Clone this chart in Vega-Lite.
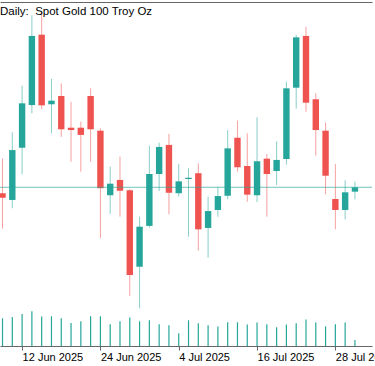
{
  "$schema": "https://vega.github.io/schema/vega-lite/v6.json",
  "width": 372,
  "height": 344,
  "autosize": "none",
  "padding": {"left": 0, "top": 2, "right": 3, "bottom": 20},
  "background": "white",
  "config": {
    "view": {"stroke": null},
    "font": "Liberation Sans",
    "axis": {"domainColor": "#666666", "tickColor": "#666666", "labelColor": "#000000", "labelFont": "Liberation Sans", "labelFontSize": 11, "grid": false, "title": null}
  },
  "title": {
    "text": "Daily:\u00a0 Spot Gold 100 Troy Oz",
    "anchor": "start",
    "frame": "group",
    "orient": "top",
    "offset": 0,
    "baseline": "alphabetic",
    "dy": 24,
    "fontSize": 11.5,
    "fontWeight": "normal",
    "color": "#000000",
    "font": "Liberation Sans"
  },
  "datasets": {
    "candles": [
      {"date": "2025-06-10", "o": 3322.7, "h": 3344.8, "l": 3300.0, "c": 3319.8, "v": 27.7},
      {"date": "2025-06-11", "o": 3318.4, "h": 3361.7, "l": 3313.1, "c": 3350.3, "v": 29.0},
      {"date": "2025-06-12", "o": 3351.8, "h": 3391.5, "l": 3334.8, "c": 3380.2, "v": 32.0},
      {"date": "2025-06-13", "o": 3379.1, "h": 3436.5, "l": 3373.8, "c": 3423.3, "v": 34.7},
      {"date": "2025-06-16", "o": 3424.1, "h": 3438.6, "l": 3376.4, "c": 3378.9, "v": 29.4},
      {"date": "2025-06-17", "o": 3379.6, "h": 3395.8, "l": 3361.0, "c": 3381.9, "v": 29.7},
      {"date": "2025-06-18", "o": 3384.9, "h": 3393.0, "l": 3358.7, "c": 3363.6, "v": 27.7},
      {"date": "2025-06-19", "o": 3364.6, "h": 3381.2, "l": 3342.9, "c": 3363.1, "v": 23.0},
      {"date": "2025-06-20", "o": 3364.6, "h": 3368.5, "l": 3336.5, "c": 3360.0, "v": 24.7},
      {"date": "2025-06-23", "o": 3384.9, "h": 3389.8, "l": 3342.9, "c": 3363.6, "v": 29.7},
      {"date": "2025-06-24", "o": 3362.7, "h": 3364.2, "l": 3293.9, "c": 3325.9, "v": 29.7},
      {"date": "2025-06-25", "o": 3321.4, "h": 3339.7, "l": 3309.6, "c": 3328.8, "v": 21.7},
      {"date": "2025-06-26", "o": 3331.2, "h": 3346.1, "l": 3307.7, "c": 3324.3, "v": 24.7},
      {"date": "2025-06-27", "o": 3324.6, "h": 3325.3, "l": 3257.0, "c": 3270.4, "v": 28.4},
      {"date": "2025-06-30", "o": 3275.7, "h": 3307.7, "l": 3249.1, "c": 3301.3, "v": 24.7},
      {"date": "2025-07-01", "o": 3301.8, "h": 3353.1, "l": 3300.7, "c": 3335.0, "v": 25.7},
      {"date": "2025-07-02", "o": 3335.0, "h": 3355.0, "l": 3324.1, "c": 3352.3, "v": 21.7},
      {"date": "2025-07-03", "o": 3353.6, "h": 3360.6, "l": 3309.2, "c": 3323.0, "v": 20.7},
      {"date": "2025-07-04", "o": 3322.7, "h": 3341.4, "l": 3320.5, "c": 3330.3, "v": 12.7},
      {"date": "2025-07-07", "o": 3331.8, "h": 3338.6, "l": 3294.9, "c": 3332.6, "v": 25.7},
      {"date": "2025-07-08", "o": 3335.5, "h": 3341.8, "l": 3286.0, "c": 3299.6, "v": 22.7},
      {"date": "2025-07-09", "o": 3300.5, "h": 3320.5, "l": 3281.5, "c": 3311.3, "v": 20.7},
      {"date": "2025-07-10", "o": 3312.0, "h": 3326.9, "l": 3307.7, "c": 3320.9, "v": 19.4},
      {"date": "2025-07-11", "o": 3321.1, "h": 3363.1, "l": 3318.8, "c": 3351.4, "v": 23.7},
      {"date": "2025-07-14", "o": 3358.2, "h": 3369.1, "l": 3336.5, "c": 3339.3, "v": 23.7},
      {"date": "2025-07-15", "o": 3340.1, "h": 3361.0, "l": 3317.3, "c": 3321.8, "v": 21.4},
      {"date": "2025-07-16", "o": 3321.4, "h": 3371.3, "l": 3317.1, "c": 3343.1, "v": 23.4},
      {"date": "2025-07-17", "o": 3344.8, "h": 3347.8, "l": 3307.7, "c": 3335.0, "v": 21.7},
      {"date": "2025-07-18", "o": 3336.9, "h": 3355.9, "l": 3328.0, "c": 3344.0, "v": 18.7},
      {"date": "2025-07-21", "o": 3344.6, "h": 3394.0, "l": 3341.0, "c": 3389.8, "v": 21.4},
      {"date": "2025-07-22", "o": 3390.2, "h": 3424.1, "l": 3376.8, "c": 3422.4, "v": 22.7},
      {"date": "2025-07-23", "o": 3423.3, "h": 3429.2, "l": 3374.8, "c": 3380.6, "v": 26.4},
      {"date": "2025-07-24", "o": 3382.8, "h": 3386.6, "l": 3346.7, "c": 3363.1, "v": 23.4},
      {"date": "2025-07-25", "o": 3362.7, "h": 3367.8, "l": 3322.0, "c": 3333.9, "v": 19.7},
      {"date": "2025-07-28", "o": 3319.0, "h": 3341.4, "l": 3299.6, "c": 3312.0, "v": 21.7},
      {"date": "2025-07-29", "o": 3312.0, "h": 3331.0, "l": 3306.0, "c": 3323.3, "v": 23.4},
      {"date": "2025-07-30", "o": 3323.7, "h": 3330.1, "l": 3318.8, "c": 3326.5, "v": 6.0}
    ],
    "last": [{"price": 3326.5}]
  },
  "layer": [
    {
      "layer": [
        {
          "data": {"name": "candles"},
          "mark": {"type": "rule", "strokeWidth": 1, "opacity": 0.55},
          "encoding": {
            "x": {
              "field": "date",
              "type": "ordinal",
              "scale": {"type": "point", "padding": 1.077, "align": 0.1286},
              "axis": {
                "orient": "bottom",
                "values": ["2025-06-12", "2025-06-24", "2025-07-04", "2025-07-16", "2025-07-28"],
                "labelExpr": "utcFormat(toDate(datum.value), '%-d %b %Y')",
                "labelAlign": "left",
                "labelAngle": 0,
                "labelBaseline": "top",
                "tickSize": 4,
                "labelPadding": 1,
                "labelOverlap": false,
                "labelFlush": false,
                "labelBound": false,
                "title": null
              }
            },
            "y": {
              "field": "h",
              "type": "quantitative",
              "scale": {"domain": [3225, 3445], "nice": false, "zero": false},
              "axis": {
                "orient": "right",
                "values": [3250, 3275, 3300, 3325, 3350, 3375, 3400, 3425],
                "labels": false,
                "tickSize": 4,
                "title": null
              }
            },
            "y2": {"field": "l"},
            "color": {"condition": {"test": "datum.c >= datum.o", "value": "#26a69a"}, "value": "#ef5350"}
          }
        },
        {
          "data": {"name": "candles"},
          "mark": {"type": "bar", "size": 6.4},
          "encoding": {
            "x": {"field": "date", "type": "ordinal"},
            "y": {"field": "o", "type": "quantitative", "axis": null},
            "y2": {"field": "c"},
            "color": {"condition": {"test": "datum.c >= datum.o", "value": "#26a69a"}, "value": "#ef5350"}
          }
        },
        {
          "data": {"name": "last"},
          "mark": {"type": "rule", "color": "#26a69a", "opacity": 0.65, "strokeWidth": 1},
          "encoding": {
            "y": {"field": "price", "type": "quantitative", "axis": null}
          }
        }
      ]
    },
    {
      "data": {"name": "candles"},
      "mark": {"type": "rule", "color": "#26a69a", "strokeWidth": 1.2},
      "encoding": {
        "x": {
          "field": "date",
          "type": "ordinal",
          "axis": {"orient": "top", "labels": false, "ticks": false, "domain": true, "title": null}
        },
        "y": {"field": "v", "type": "quantitative", "scale": {"domain": [0, 344], "nice": false, "zero": true}, "axis": null},
        "y2": {"datum": 0}
      }
    }
  ],
  "resolve": {"scale": {"y": "independent"}}
}
